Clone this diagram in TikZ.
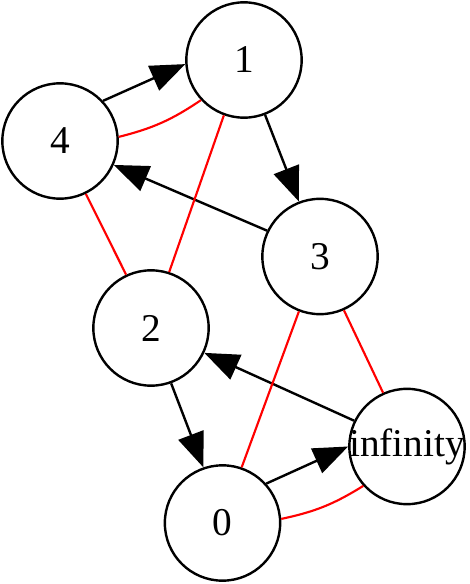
\documentclass[tikz,border=0pt]{standalone}
\usepackage{fontspec}
\setmainfont{Liberation Serif}
\usetikzlibrary{arrows.meta}
\begin{document}
\begin{tikzpicture}[x=0.75pt,y=-0.75pt,
  vtx/.style={circle,draw=black,line width=1.8pt,minimum size=86.5pt,inner sep=0pt,fill=white,font=\fontsize{29.5}{34}\selectfont},
  arc/.style={line width=1.8pt,-{Triangle[length=26pt,width=20pt]}},
  redline/.style={draw=red,line width=1.6pt}]
\useasboundingbox[fill=white] (0,0) rectangle (469,584);
\node[vtx] (n1) at (244,60) {1};
\node[vtx] (n4) at (60,141) {4};
\node[vtx] (n3) at (320,256.5) {3};
\node[vtx] (n2) at (151,328) {2};
\node[vtx] (ninf) at (407,446.5) {\makebox[0pt][c]{infinity}};
\node[vtx] (n0) at (222.5,523) {0};
% directed edges
\draw[arc] (n4.43.4) -- (n1.184);
\draw[arc] (n1.291.8) -- (n3.111);
\draw[arc] (n3.154.2) -- (n4.336.7);
\draw[arc] (n2.290.6) -- (n0.109.2);
\draw[arc] (ninf.154.3) -- (n2.335.4);
\draw[arc] (n0.42.7) -- (ninf.180.8);
% red undirected edges
\draw[redline] (n4.4) to[bend right=10] (n1.223.5);
\draw[redline] (n1.250.6) -- (n2.72.1);
\draw[redline] (n4.296.4) -- (n2.115.5);
\draw[redline] (n3.249.6) -- (n0.71.3);
\draw[redline] (n3.294.8) -- (ninf.114.1);
\draw[redline] (n0.4) to[bend right=10] (ninf.222.6);
\end{tikzpicture}
\end{document}
